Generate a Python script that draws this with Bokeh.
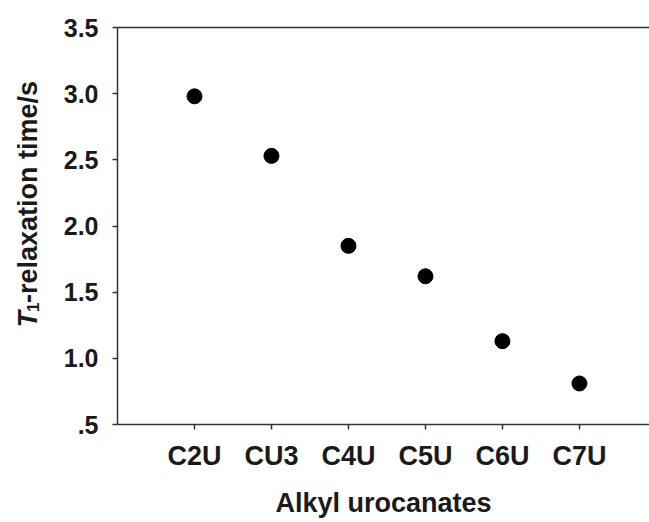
import math

from bokeh.core.properties import value
from bokeh.embed import file_html
from bokeh.layouts import row
from bokeh.models import ColumnDataSource, FixedTicker, LinearAxis, Range1d
from bokeh.plotting import figure
from bokeh.resources import INLINE

# Spin-lattice relaxation times of the alkyl urocanates
categories = ["C2U", "CU3", "C4U", "C5U", "C6U", "C7U"]
t1_values = [2.98, 2.53, 1.85, 1.62, 1.13, 0.81]

# y-axis ticks and their printed form
y_ticks = [0.5, 1.0, 1.5, 2.0, 2.5, 3.0, 3.5]
y_tick_labels = [".5", "1.0", "1.5", "2.0", "2.5", "3.0", "3.5"]

positions = list(range(1, len(categories) + 1))
source = ColumnDataSource(data=dict(x=positions, y=t1_values, name=categories))

FONT = "Liberation Sans"
INK = "#1a1a1a"
AXIS = "#333333"

TITLE_W = 60
BORDER_TOP = 27
FRAME_H = 397
BORDER_BOTTOM = 60
TOTAL_H = BORDER_TOP + FRAME_H + BORDER_BOTTOM

p = figure(
    frame_width=532,
    frame_height=FRAME_H,
    x_range=Range1d(0, 6.91),
    y_range=Range1d(0.5, 3.5),
    output_backend="svg",
    toolbar_location=None,
    min_border_left=117 - TITLE_W,
    min_border_right=0,
    min_border_top=BORDER_TOP,
    min_border_bottom=BORDER_BOTTOM,
    x_axis_type=None,
    y_axis_type=None,
)
p.outline_line_color = None
p.grid.visible = False
p.background_fill_color = "white"
p.border_fill_color = "white"

# bottom category axis
xaxis = LinearAxis(
    ticker=FixedTicker(ticks=positions),
    major_label_overrides={pos: name for pos, name in zip(positions, categories)},
    axis_label="Alkyl urocanates",
)
xaxis.axis_line_color = AXIS
xaxis.axis_line_width = 1.5
xaxis.major_tick_line_color = AXIS
xaxis.major_tick_line_width = 1.5
xaxis.major_tick_in = 0
xaxis.major_tick_out = 5
xaxis.minor_tick_line_color = None
xaxis.major_label_text_font = FONT
xaxis.major_label_text_font_style = "bold"
xaxis.major_label_text_font_size = "27px"
xaxis.major_label_text_color = INK
xaxis.major_label_standoff = 11
xaxis.axis_label_text_font = FONT
xaxis.axis_label_text_font_style = "bold"
xaxis.axis_label_text_font_size = "27px"
xaxis.axis_label_text_color = INK
xaxis.axis_label_standoff = 14
p.add_layout(xaxis, "below")

# left value axis
yaxis = LinearAxis(
    ticker=FixedTicker(ticks=y_ticks),
    major_label_overrides={t: s for t, s in zip(y_ticks, y_tick_labels)},
)
yaxis.axis_line_color = AXIS
yaxis.axis_line_width = 1.5
yaxis.major_tick_line_color = AXIS
yaxis.major_tick_line_width = 1.5
yaxis.major_tick_in = 0
yaxis.major_tick_out = 5
yaxis.minor_tick_line_color = None
yaxis.major_label_text_font = FONT
yaxis.major_label_text_font_style = "bold"
yaxis.major_label_text_font_size = "25px"
yaxis.major_label_text_color = INK
yaxis.major_label_standoff = 14
p.add_layout(yaxis, "left")

# plain rule closing the top of the frame
top = LinearAxis(ticker=FixedTicker(ticks=[]))
top.axis_line_color = AXIS
top.axis_line_width = 1.5
top.major_tick_line_color = None
top.minor_tick_line_color = None
top.major_label_text_font_size = "0px"
p.add_layout(top, "above")

p.scatter("x", "y", source=source, size=15, color="black", marker="circle")

# narrow strip to the left carrying the rotated y-axis title:
# italic T, subscript 1, then the rest of the words.
# Its frame lines up with the main frame, so its y range is expressed in
# page pixels counted up from the bottom edge of a 522 px tall page.
PAGE_H = 522
PAGE_BOTTOM = 98
t = figure(
    width=TITLE_W,
    height=TOTAL_H,
    x_range=Range1d(0, TITLE_W),
    y_range=Range1d(PAGE_BOTTOM, PAGE_BOTTOM + FRAME_H),
    output_backend="svg",
    toolbar_location=None,
    min_border=0,
    x_axis_type=None,
    y_axis_type=None,
)
t.outline_line_color = None
t.grid.visible = False
t.background_fill_color = "white"
t.border_fill_color = "white"

up = math.pi / 2
common = dict(angle=up, text_color=INK, text_align="left",
              text_baseline="alphabetic", text_font=value(FONT))
t.text(x=[27], y=[PAGE_H - 357], text=["T"],
       text_font_style="bold italic", text_font_size="27px", **common)
t.text(x=[32], y=[PAGE_H - 340], text=["1"],
       text_font_style="bold", text_font_size="17px", **common)
t.text(x=[27], y=[PAGE_H - 330], text=["-relaxation time/s"],
       text_font_style="bold", text_font_size="27px", **common)

layout = row(t, p, spacing=0)
open("out.html", "w").write(file_html(layout, INLINE))
